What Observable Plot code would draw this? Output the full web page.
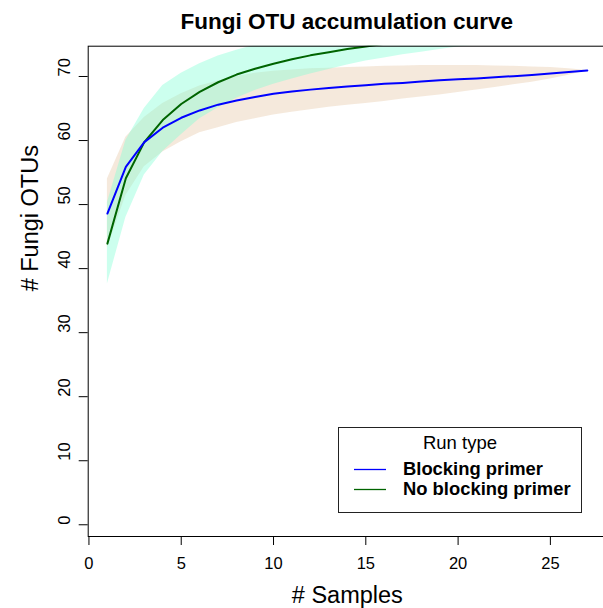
<!DOCTYPE html>
<html>
<head>
<meta charset="utf-8">
<script src="https://cdn.jsdelivr.net/npm/d3@7"></script>
<script src="https://cdn.jsdelivr.net/npm/@observablehq/plot@0.6"></script>
<style>
  html, body { margin: 0; padding: 0; background: #fff; overflow: hidden; }
  #wrap { position: relative; width: 603px; height: 608px; font-family: "Liberation Sans", Arial, Helvetica, sans-serif; }
  #title { position: absolute; left: 87.7px; width: 518.3px; top: 11px; text-align: center; font-weight: bold; font-size: 22.5px; line-height: 22.5px; color: #000; white-space: nowrap; }
  #legend { position: absolute; left: 338px; top: 427px; width: 242px; height: 84px; border: 1px solid #222; background: #fff; }
  #legend .ttl { position: absolute; left: 0; width: 100%; top: 5px; text-align: center; font-size: 18.5px; line-height: 20px; }
  #legend .row { position: absolute; left: 15px; height: 20px; width: 220px; }
  #legend svg.sw { position: absolute; left: 0; top: 0; width: 34px; height: 20px; overflow: visible; }
  #legend .lab { position: absolute; left: 49px; top: 0; font-size: 18.4px; line-height: 20px; font-weight: bold; white-space: nowrap; }
</style>
</head>
<body>
<div id="wrap">
  <div id="chart"></div>
  <div id="title"></div>
  <div id="legend"></div>
</div>
<script>
// ---- data ----
const titleText = "Fungi OTU accumulation curve";
const xLabel = "# Samples";
const yLabel = "# Fungi OTUs";
const legendTitle = "Run type";
const seriesNames = ["Blocking primer", "No blocking primer"];
const seriesColors = ["#0000ff", "#006400"];
const bandColors = ["#E6C9A8", "aquamarine"];

const xTicks = [0, 5, 10, 15, 20, 25];
const yTicks = [0, 10, 20, 30, 40, 50, 60, 70];

const samplesBlocking = [1,2,3,4,5,6,7,8,9,10,11,12,13,14,15,16,17,18,19,20,21,22,23,24,25,26,27];
const blockingMean  = [48.6,55.9,59.75,62.0,63.55,64.7,65.6,66.25,66.8,67.3,67.65,67.95,68.2,68.45,68.65,68.85,69.0,69.2,69.4,69.55,69.7,69.9,70.05,70.25,70.45,70.7,70.95];
const blockingLower = [43.2,51.4,55.9,58.2,59.8,61.2,62.0,62.8,63.4,64.0,64.4,64.8,65.2,65.5,65.8,66.1,66.5,66.8,67.1,67.5,67.9,68.3,68.7,69.1,69.6,70.2,70.95];
const blockingUpper = [54.0,60.5,63.6,65.8,67.3,68.5,69.3,70.0,70.5,70.8,71.0,71.2,71.3,71.4,71.5,71.6,71.65,71.7,71.7,71.7,71.7,71.65,71.6,71.5,71.4,71.2,70.95];

const samplesNoBlocking = [1,2,3,4,5,6,7,8,9,10,11,12,13,14,15,16,17,18,19,20,21];
const noBlockingMean  = [43.9,54.1,59.75,63.2,65.7,67.6,69.1,70.3,71.2,72.0,72.7,73.3,73.8,74.3,74.7,75.1,75.5,75.8,76.1,76.4,76.7];
const noBlockingLower = [37.6,48.0,54.6,58.3,60.9,63.4,65.1,66.6,67.8,68.8,69.6,70.4,71.1,71.8,72.4,72.9,73.4,73.8,74.2,74.6,74.9];
const noBlockingUpper = [50.3,60.0,65.0,68.6,70.5,72.0,73.2,74.1,74.9,75.6,76.2,76.8,77.3,77.8,78.2,78.6,79.0,79.3,79.6,79.9,80.2];

// ---- tables built from the arrays ----
const blocking = samplesBlocking.map((s, i) => ({x: s, m: blockingMean[i], lo: blockingLower[i], hi: blockingUpper[i]}));
const noBlocking = samplesNoBlocking.map((s, i) => ({x: s, m: noBlockingMean[i], lo: noBlockingLower[i], hi: noBlockingUpper[i]}));

const font = '"Liberation Sans", Arial, Helvetica, sans-serif';

const chart = Plot.plot({
  width: 603,
  height: 608,
  marginLeft: 87.7,
  marginRight: -3,
  marginTop: 45.7,
  marginBottom: 72,
  style: {fontFamily: font, background: "transparent", color: "#000", overflow: "visible"},
  x: {domain: [-0.04, 28.04], range: [87.7, 606], axis: null},
  y: {domain: [-1.83, 74.73], axis: null},
  marks: [
    Plot.areaY(blocking, {x: "x", y1: "lo", y2: "hi", fill: bandColors[0], fillOpacity: 0.4, clip: true}),
    Plot.areaY(noBlocking, {x: "x", y1: "lo", y2: "hi", fill: bandColors[1], fillOpacity: 0.4, clip: true}),
    Plot.lineY(noBlocking, {x: "x", y: "m", stroke: seriesColors[1], strokeWidth: 2, clip: true}),
    Plot.lineY(blocking, {x: "x", y: "m", stroke: seriesColors[0], strokeWidth: 2, clip: true}),
    Plot.frame({stroke: "#000", strokeWidth: 1}),
    Plot.axisX(xTicks, {tickSize: 9, tickFormat: () => "", label: null, stroke: "#000"}),
    Plot.axisY(yTicks, {tickSize: 9, tickFormat: () => "", label: null, stroke: "#000"}),
    Plot.text(xTicks, {x: d => d, text: d => String(d), frameAnchor: "bottom", dy: 32, fontSize: 16.5, fill: "#000"}),
    Plot.text(yTicks, {y: d => d, text: d => String(d), frameAnchor: "left", dx: -23, rotate: -90, fontSize: 16.5, fill: "#000"}),
    Plot.text([xLabel], {text: d => d, frameAnchor: "bottom", dy: 66, fontSize: 23.5, fill: "#000"}),
    Plot.text([yLabel], {text: d => d, frameAnchor: "left", dx: -58, rotate: -90, fontSize: 23.5, fill: "#000"})
  ]
});
document.getElementById("chart").appendChild(chart);

document.getElementById("title").textContent = titleText;

const legend = document.getElementById("legend");
const t = document.createElement("div");
t.className = "ttl";
t.textContent = legendTitle;
legend.appendChild(t);
const NS = "http://www.w3.org/2000/svg";
seriesNames.forEach((name, i) => {
  const row = document.createElement("div");
  row.className = "row";
  row.style.top = (31 + i * 20) + "px";
  const sw = document.createElementNS(NS, "svg");
  sw.setAttribute("class", "sw");
  sw.setAttribute("width", "34");
  sw.setAttribute("height", "20");
  const ln = document.createElementNS(NS, "line");
  ln.setAttribute("x1", "0");
  ln.setAttribute("x2", "32");
  ln.setAttribute("y1", "10.5");
  ln.setAttribute("y2", "10.5");
  ln.setAttribute("stroke", seriesColors[i]);
  ln.setAttribute("stroke-width", "1.3");
  sw.appendChild(ln);
  const lab = document.createElement("div");
  lab.className = "lab";
  lab.textContent = name;
  row.appendChild(sw);
  row.appendChild(lab);
  legend.appendChild(row);
});
</script>
</body>
</html>
